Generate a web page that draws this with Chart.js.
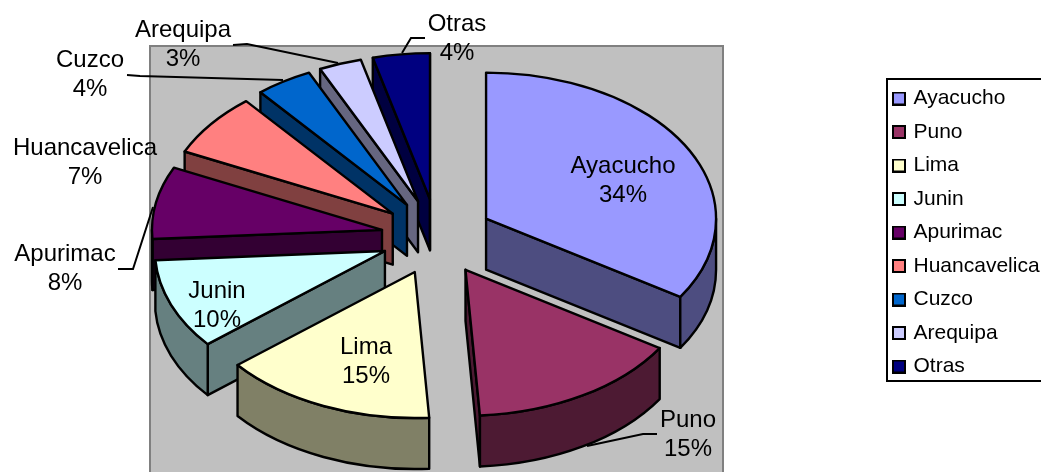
<!DOCTYPE html>
<html><head><meta charset="utf-8">
<style>html,body{margin:0;padding:0;background:#fff}canvas{display:block}</style>
<script src="https://cdn.jsdelivr.net/npm/chart.js@4"></script>
</head><body><canvas id="c" width="1041" height="472"></canvas>
<script>
const categories = ['Ayacucho','Puno','Lima','Junin','Apurimac','Huancavelica','Cuzco','Arequipa','Otras'];
const shares = [34,15,15,10,8,7,4,3,4];
const colors = ['#9999FF','#993366','#FFFFCC','#CCFFFF','#660066','#FF8080','#0066CC','#CCCCFF','#000080'];
const wallColors = ['#4D4D80','#4D1A33','#808066','#668080','#330033','#804040','#003366','#666680','#000040'];

// layout of the tilted pie
const CX = 437, CY = 237, TILT = 0.635, EXPLODE_TILT = 0.68, DEPTH = 51, EXPLODE = 56, RADIUS = 230, LW = 2.4;
// text anchors for the data labels, and their leader lines
const labelPos = [[623,166],[688,420],[366,347],[217,291],[65,254],[85,148],[90,60],[183,30],[457,24]];
const LINE_GAP = 29;
const leaders = [
  [[657,434],[643,434],[587,446]],
  [[118,269],[133,269],[153,207]],
  [[127,75],[140,76],[283,80]],
  [[233,45],[247,44],[338,63]],
  [[425,38],[411,38],[402,53]]
];

function geom(el){
  const a0 = el.startAngle, a1 = el.endAngle, mid = (a0+a1)/2, r = el.outerRadius;
  const ox = CX + EXPLODE*Math.cos(mid), oy = CY + EXPLODE*EXPLODE_TILT*Math.sin(mid);
  const pt = a => [ox + r*Math.cos(a), oy + r*TILT*Math.sin(a)];
  return {a0,a1,mid,r,ox,oy,pt};
}
function strokeFill(ctx, fill){
  ctx.fillStyle = fill; ctx.fill();
  ctx.strokeStyle = '#000'; ctx.lineWidth = LW; ctx.lineJoin = 'round'; ctx.stroke();
}
function drawWalls(ctx, el, wall){
  const g = geom(el), apex = [g.ox, g.oy], m = g.pt(g.mid);
  const faces = [];
  [g.a0, g.a1].forEach(a => {
    const p = g.pt(a), dx = p[0]-apex[0], dy = p[1]-apex[1];
    let nx = -dy, ny = dx;
    if (nx*(m[0]-apex[0]) + ny*(m[1]-apex[1]) > 0) { nx = -nx; ny = -ny; }
    if (ny > 0) faces.push(p);
  });
  faces.forEach(p => {
    ctx.beginPath();
    ctx.moveTo(apex[0],apex[1]); ctx.lineTo(p[0],p[1]);
    ctx.lineTo(p[0],p[1]+DEPTH); ctx.lineTo(apex[0],apex[1]+DEPTH); ctx.closePath();
    strokeFill(ctx, wall);
  });
  // rounded wall: only the part of the rim that faces the viewer
  for (let k = -1; k <= 1; k++) {
    const s = Math.max(g.a0, k*2*Math.PI), e = Math.min(g.a1, k*2*Math.PI + Math.PI);
    if (e <= s) continue;
    ctx.beginPath();
    ctx.ellipse(g.ox, g.oy, g.r, g.r*TILT, 0, s, e);
    ctx.ellipse(g.ox, g.oy+DEPTH, g.r, g.r*TILT, 0, e, s, true);
    ctx.closePath();
    strokeFill(ctx, wall);
  }
}
const pie3d = {
  id: 'pie3d',
  afterLayout(chart){
    const lg = chart.legend, w = lg.right - lg.left;
    lg.left = 882.5; lg.right = lg.left + w; lg.top -= 3.5; lg.bottom -= 3.5;
  },
  beforeDraw(chart){
    const ctx = chart.ctx;
    ctx.save();
    ctx.fillStyle = '#fff'; ctx.fillRect(0,0,1041,472);
    ctx.fillStyle = '#C0C0C0'; ctx.strokeStyle = '#808080'; ctx.lineWidth = 2;
    ctx.fillRect(150,46,573,430); ctx.strokeRect(150,46,573,430);
    ctx.strokeStyle = '#000'; ctx.lineWidth = 2;
    ctx.strokeRect(887,79,170,302);
    ctx.restore();
  },
  beforeDatasetDraw(chart, args){
    const ctx = chart.ctx, arcs = args.meta.data;
    const order = arcs.map((el,i)=>i).sort((a,b)=>geom(arcs[a]).oy - geom(arcs[b]).oy);
    ctx.save();
    order.forEach(i => drawWalls(ctx, arcs[i], wallColors[i]));
    order.forEach(i => {
      const el = arcs[i], g = geom(el);
      ctx.save();
      ctx.translate(g.ox, g.oy); ctx.scale(1, TILT); ctx.translate(-el.x, -el.y);
      el.draw(ctx);
      ctx.restore();
      ctx.beginPath();
      ctx.moveTo(g.ox, g.oy);
      ctx.ellipse(g.ox, g.oy, g.r, g.r*TILT, 0, g.a0, g.a1);
      ctx.closePath();
      ctx.strokeStyle = '#000'; ctx.lineWidth = LW; ctx.lineJoin = 'round'; ctx.stroke();
    });
    ctx.restore();
    return false;
  },
  afterDraw(chart){
    const ctx = chart.ctx, total = shares.reduce((a,b)=>a+b,0);
    ctx.save();
    ctx.strokeStyle = '#000'; ctx.lineWidth = 2;
    leaders.forEach(l => {
      ctx.beginPath();
      l.forEach((p,i)=> i ? ctx.lineTo(p[0],p[1]) : ctx.moveTo(p[0],p[1]));
      ctx.stroke();
    });
    ctx.fillStyle = '#000';
    ctx.font = '24px "Liberation Sans", Arial, sans-serif';
    ctx.textAlign = 'center'; ctx.textBaseline = 'middle';
    categories.forEach((c,i) => {
      const [x,y] = labelPos[i];
      ctx.fillText(c, x, y);
      ctx.fillText(Math.round(shares[i]/total*100)+'%', x, y+LINE_GAP);
    });
    ctx.restore();
  }
};
function swatch(color){
  const s = document.createElement('canvas');
  s.width = 14; s.height = 14;
  const c = s.getContext('2d');
  c.fillStyle = color; c.fillRect(1,1,12,12);
  c.strokeStyle = '#000'; c.lineWidth = 2; c.strokeRect(1,1,12,12);
  return s;
}
new Chart(document.getElementById('c'), {
  type: 'pie',
  plugins: [pie3d],
  data: { labels: categories, datasets: [{ data: shares, backgroundColor: colors, borderWidth: 0, clip: false }] },
  options: {
    responsive: false, animation: false, devicePixelRatio: 1, events: [],
    radius: RADIUS,
    plugins: {
      tooltip: { enabled: false },
      legend: {
        position: 'right',
        labels: {
          usePointStyle: true, pointStyleWidth: 8, boxHeight: 12, padding: 12.5, color: '#000',
          font: { family: '"Liberation Sans", Arial, sans-serif', size: 21 },
          generateLabels(chart){
            return categories.map((t,i)=>({ text: t, fillStyle: colors[i], strokeStyle: '#000', lineWidth: 2, hidden: false, index: i, fontColor: '#000', pointStyle: swatch(colors[i]) }));
          }
        }
      }
    }
  }
});
</script></body></html>
